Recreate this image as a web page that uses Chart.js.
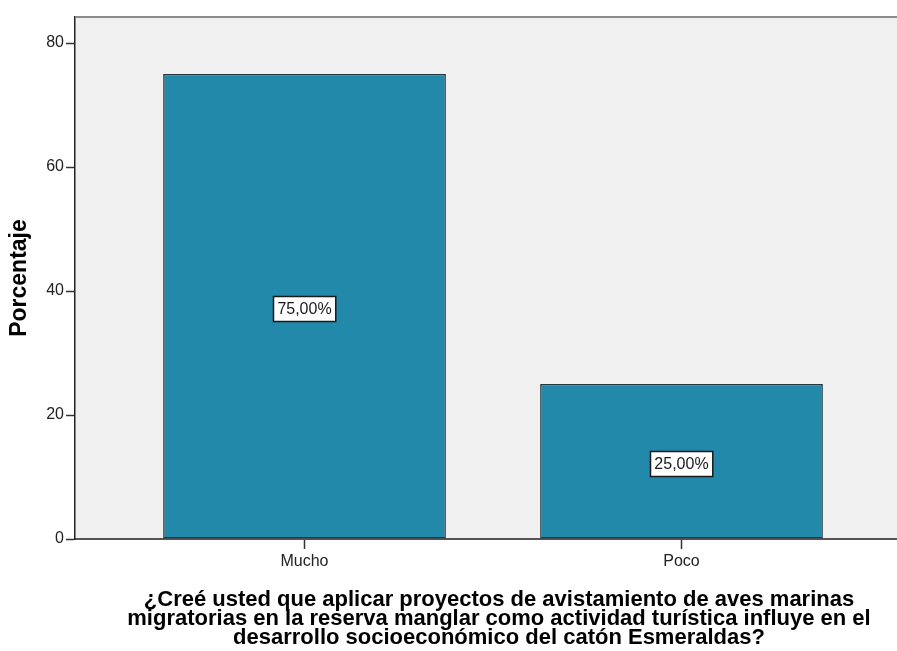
<!DOCTYPE html>
<html>
<head>
<meta charset="utf-8">
<script src="https://cdn.jsdelivr.net/npm/chart.js@4/dist/chart.umd.min.js"></script>
<style>
  html, body { margin: 0; padding: 0; background: #ffffff; overflow: hidden; width: 897px; height: 651px; }
  #wrap { width: 923px; height: 651px; }
</style>
</head>
<body>
<div id="wrap"><canvas id="c" width="923" height="651"></canvas></div>
<script>
const categories = ['Mucho', 'Poco'];
const percentages = [75, 25];
const valueLabels = ['75,00%', '25,00%'];
const yTickValues = [0, 20, 40, 60, 80];
const yAxisTitle = 'Porcentaje';
const xAxisTitle = [
  '¿Creé usted que aplicar proyectos de avistamiento de aves marinas',
  'migratorias en la reserva manglar como actividad turística influye en el',
  'desarrollo socioeconómico del catón Esmeraldas?'
];

const FONT = "'Liberation Sans', Arial, sans-serif";

const plotBg = {
  id: 'plotBg',
  beforeDraw(chart) {
    const { ctx, chartArea: a } = chart;
    ctx.save();
    ctx.fillStyle = '#f0f0f0';
    ctx.fillRect(a.left, a.top, a.right - a.left, a.bottom - a.top);
    ctx.restore();
  },
  afterDraw(chart) {
    const { ctx, chartArea: a } = chart;
    ctx.save();
    ctx.strokeStyle = '#8a8a8a';
    ctx.lineWidth = 2;
    ctx.beginPath();
    ctx.moveTo(a.left, a.top);
    ctx.lineTo(a.right, a.top);
    ctx.stroke();
    ctx.restore();
  }
};

const boxLabels = {
  id: 'boxLabels',
  afterDatasetsDraw(chart) {
    const { ctx } = chart;
    const meta = chart.getDatasetMeta(0);
    const ys = chart.scales.y;
    ctx.save();
    ctx.font = '16px ' + FONT;
    ctx.textAlign = 'center';
    ctx.textBaseline = 'middle';
    meta.data.forEach((el, i) => {
      const txt = valueLabels[i];
      const cy = ys.getPixelForValue(percentages[i] / 2) + 2;
      const w = ctx.measureText(txt).width + 8;
      const h = 25;
      const x0 = Math.round(el.x - w / 2) + 0.5;
      const y0 = Math.round(cy - h / 2) + 0.5;
      ctx.fillStyle = '#ffffff';
      ctx.fillRect(x0, y0, w, h);
      ctx.strokeStyle = '#1a1a1a';
      ctx.lineWidth = 1.5;
      ctx.strokeRect(x0, y0, w, h);
      ctx.fillStyle = '#1a1a1a';
      ctx.fillText(txt, el.x, cy + 1);
    });
    ctx.restore();
  }
};

new Chart(document.getElementById('c'), {
  type: 'bar',
  data: {
    datasets: [{
      data: percentages.map((v, i) => ({ x: i, y: v })),
      backgroundColor: '#2389aa',
      borderColor: '#24363e',
      borderWidth: 1.5,
      borderSkipped: false,
      barPercentage: 0.75,
      categoryPercentage: 1
    }]
  },
  plugins: [plotBg, boxLabels],
  options: {
    responsive: false,
    animation: false,
    devicePixelRatio: 1,
    layout: { padding: { top: 17, left: 0, right: 0, bottom: 0 } },
    plugins: { legend: { display: false }, tooltip: { enabled: false } },
    scales: {
      x: {
        type: 'linear',
        offset: false,
        min: -0.6088,
        max: 1.6406,
        afterBuildTicks(scale) { scale.ticks = categories.map((c, i) => ({ value: i })); },
        afterFit(scale) { scale.height = 112; },
        ticks: {
          callback: (v) => categories[v],
          font: { family: FONT, size: 16 },
          color: '#222',
          padding: 3,
          maxRotation: 0,
          autoSkip: false
        },
        grid: { offset: false, drawOnChartArea: false, tickLength: 10, color: '#333', tickWidth: 1.5 },
        border: { color: '#555', width: 2 },
        title: {
          display: true,
          text: xAxisTitle,
          font: { family: FONT, size: 22, weight: 'bold', lineHeight: '19px' },
          color: '#000',
          padding: { top: 0, bottom: 4 }
        }
      },
      y: {
        min: 0,
        max: 84.2,
        afterBuildTicks(scale) { scale.ticks = yTickValues.map(v => ({ value: v })); },
        afterFit(scale) { scale.width = 75; },
        ticks: {
          font: { family: FONT, size: 16 },
          color: '#222',
          padding: 2
        },
        grid: { drawOnChartArea: false, tickLength: 9, color: '#333', tickWidth: 1.5 },
        border: { color: '#222', width: 1.5 },
        title: {
          display: true,
          text: yAxisTitle,
          font: { family: FONT, size: 23, weight: 'bold' },
          color: '#000',
          padding: { top: 6, bottom: 0 }
        }
      }
    }
  }
});
</script>
</body>
</html>
